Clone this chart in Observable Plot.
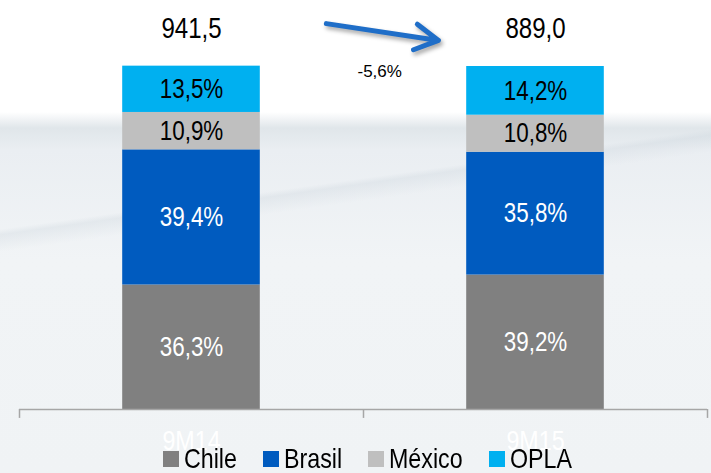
<!DOCTYPE html>
<html>
<head>
<meta charset="utf-8">
<script src="https://cdn.jsdelivr.net/npm/d3@7"></script>
<script src="https://cdn.jsdelivr.net/npm/@observablehq/plot@0.6"></script>
<style>
  html, body { margin: 0; padding: 0; }
  #wrap {
    position: relative; width: 711px; height: 473px; overflow: hidden;
    background:
      linear-gradient(172deg, rgba(255,255,255,0) 0%, rgba(255,255,255,0) 40%, rgba(200,210,218,0.3) 41%, rgba(255,255,255,0) 44%),
      linear-gradient(to bottom, #ffffff 0px, #ffffff 112px, #e0e6ea 128px, #eaeef2 150px, #f1f4f6 260px, #f0f3f5 473px);
    font-family: 'Liberation Sans', Arial, sans-serif;
  }
  #legend {
    position: absolute; left: 163px; top: 445px; display: flex; align-items: center;
    font-size: 28px; line-height: 28px; color: #000; white-space: nowrap;
  }
  #legend .item { display: flex; align-items: center; margin-right: 26px; }
  #legend .sw { width: 16px; height: 16px; margin-right: 5px; flex: none; }
  #legend .txt { display: inline-block; transform: scaleX(0.83); transform-origin: 0 50%; }
  .arrow path { filter: drop-shadow(2px 3px 2px rgba(0,0,0,0.35)); }
</style>
</head>
<body>
<div id="wrap"></div>
<script>
// ---- data ----
const categories = ["9M14", "9M15"];
const totals = [941.5, 889.0];
const regions = ["Chile", "Brasil", "México", "OPLA"];
const chile  = [36.3, 39.2];
const brasil = [39.4, 35.8];
const mexico = [10.9, 10.8];
const opla   = [13.5, 14.2];
const changeLabel = "-5,6%";
const colors = ["#808080", "#005bbf", "#bfbfbf", "#00b0f0"];
const labelColors = ["#ffffff", "#ffffff", "#000000", "#000000"];

const series = [chile, brasil, mexico, opla];
const fmt = v => v.toFixed(1).replace(".", ",");

const rows = [];
categories.forEach((c, i) => {
  regions.forEach((r, k) => rows.push({cat: c, i, region: r, k, value: series[k][i]}));
});
const totalRows = categories.map((c, i) => ({cat: c, i, total: totals[i]}));
// annotation arrow between the two bars (in category units / percent units)
const arrowRows = [{x1: 0.892, y1: 112.5, x2: 1.218, y2: 107.6, label: changeLabel, lx: 1.047, ly: 98.4}];

const font = "'Liberation Sans', Arial, sans-serif";
const NARROW = 0.83;

const chart = Plot.plot({
  width: 711,
  height: 473,
  margin: 0,
  style: {background: "transparent", fontFamily: font, overflow: "visible"},
  x: {domain: [0, 2], range: [19, 707], axis: null},
  y: {domain: [0, 100], range: [409, 66], axis: null},
  color: {domain: regions, range: colors},
  marks: [
    Plot.rectY(rows, Plot.stackY({
      x1: d => d.i + 0.3, x2: d => d.i + 0.7, y: "value",
      fill: "region", order: regions
    })),
    Plot.text(rows, Plot.stackY({
      x: d => d.i + 0.5, y: "value", order: regions,
      text: d => fmt(d.value) + "%",
      fill: d => labelColors[d.k],
      fontSize: 27, lineAnchor: "middle", className: "narrow"
    })),
    Plot.ruleY([0], {x1: 0, x2: 2, stroke: "#a6a6a6", strokeWidth: 1.5}),
    Plot.ruleX([0, 1, 2], {y1: 0, y2: -2.6, stroke: "#a6a6a6", strokeWidth: 1.5}),
    Plot.text(categories, {
      x: (d, i) => i + 0.5, y: 0, dy: 32, text: d => d,
      fill: "#ffffff", fontSize: 28, lineAnchor: "middle", className: "narrow"
    }),
    Plot.text(totalRows, {
      x: d => d.i + 0.5, y: 100, dy: -38, text: d => fmt(d.total),
      fill: "#000", fontSize: 29, lineAnchor: "middle", className: "narrow"
    }),
    Plot.arrow(arrowRows, {
      x1: "x1", y1: "y1", x2: "x2", y2: "y2",
      stroke: "#1f6ec8", strokeWidth: 5, headLength: 8, headAngle: 58,
      className: "arrow"
    }),
    Plot.text(arrowRows, {
      x: "lx", y: "ly", text: "label", fill: "#000", fontSize: 17,
      lineAnchor: "middle"
    })
  ]
});

// condense the Arial-like font horizontally (Arial Narrow look)
chart.querySelectorAll("g.narrow text").forEach(t => {
  const tr = t.getAttribute("transform");
  if (tr) {
    t.setAttribute("transform", tr + ` scale(${NARROW},1)`);
  } else {
    const x = +t.getAttribute("x") || 0, y = +t.getAttribute("y") || 0;
    t.removeAttribute("x"); t.removeAttribute("y");
    t.setAttribute("transform", `translate(${x},${y}) scale(${NARROW},1)`);
  }
});

const wrap = document.getElementById("wrap");
wrap.appendChild(chart);

const legend = document.createElement("div");
legend.id = "legend";
regions.forEach((r, k) => {
  const item = document.createElement("div");
  item.className = "item";
  const sw = document.createElement("div");
  sw.className = "sw";
  sw.style.background = colors[k];
  const t = document.createElement("span");
  t.className = "txt";
  t.textContent = r;
  item.appendChild(sw);
  item.appendChild(t);
  legend.appendChild(item);
});
wrap.appendChild(legend);
legend.querySelectorAll(".txt").forEach(t => {
  const w = t.getBoundingClientRect().width / NARROW;
  t.style.marginRight = (-(1 - NARROW) * w) + "px";
});
</script>
</body>
</html>
